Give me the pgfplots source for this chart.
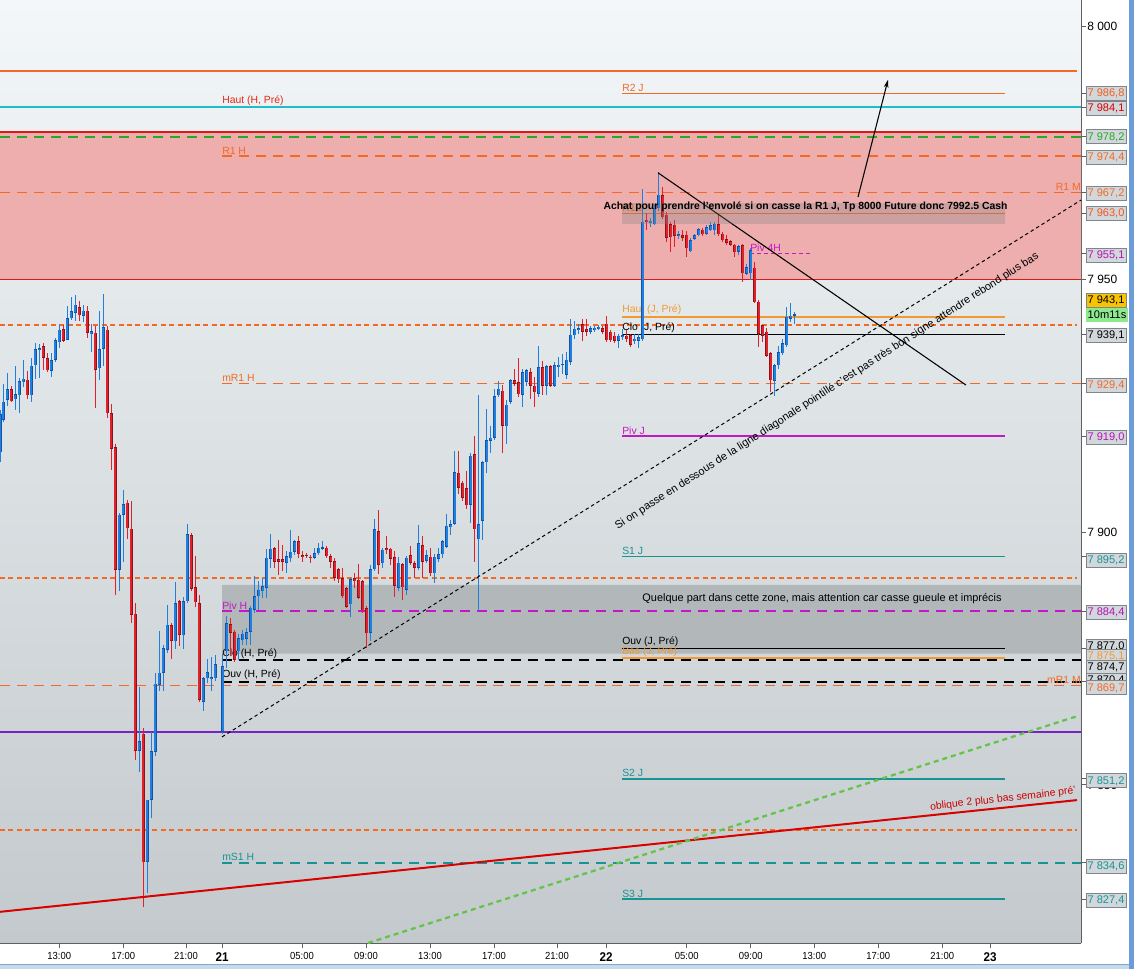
\documentclass[border=0pt]{standalone}
\usepackage{pgfplots}
\pgfplotsset{compat=1.18}
\usepackage{pgfplotstable}
\usepackage{fontspec}
\setmainfont{Liberation Sans}
\newfontfamily\narrow[FakeStretch=0.92]{Liberation Sans}
\usetikzlibrary{arrows.meta}

\definecolor{bgtop}{HTML}{F3F7FA}
\definecolor{bgbot}{HTML}{C3C9CC}
\definecolor{zonered}{HTML}{EEAEAE}
\definecolor{zonegray}{HTML}{B2B7BA}
\definecolor{lvorange}{HTML}{F26A24}
\definecolor{lvlight}{HTML}{F29A30}
\definecolor{lvcyan}{HTML}{20BCC8}
\definecolor{lvred}{HTML}{E01818}
\definecolor{lvgreen}{HTML}{28A828}
\definecolor{lvgreen2}{HTML}{62C448}
\definecolor{lvmag}{HTML}{C418C4}
\definecolor{lvteal}{HTML}{189494}
\definecolor{lvpurple}{HTML}{7A20C8}
\definecolor{cblue}{HTML}{1F80E0}
\definecolor{cblued}{HTML}{1452A8}
\definecolor{cred}{HTML}{E0202A}
\definecolor{credd}{HTML}{901018}
\definecolor{boxfill}{HTML}{D2D7DB}
\definecolor{boxdraw}{HTML}{7E868C}
\definecolor{bandblue}{HTML}{C6DAEA}
\definecolor{bandline}{HTML}{7FA7D6}
\definecolor{rborder}{HTML}{6C9BDA}

% 15 min candles, x in screen pixels, prices
\pgfplotstableread{
x o h l c
0.0 7915.9 7924.3 7914.0 7923.5
3.3 7922.3 7929.5 7921.9 7925.9
7.3 7926.3 7931.5 7925.1 7928.4
11.3 7928.4 7929.1 7925.9 7926.0
15.3 7926.3 7933.0 7924.3 7927.3
19.3 7927.1 7930.7 7923.7 7929.9
23.3 7929.7 7934.2 7928.7 7930.4
27.3 7930.3 7931.9 7926.3 7927.2
31.3 7927.1 7934.6 7925.9 7933.0
35.3 7933.0 7937.4 7930.3 7936.2
39.3 7936.1 7937.2 7930.5 7936.6
43.3 7936.8 7937.4 7932.1 7934.5
47.3 7934.5 7935.4 7931.6 7932.1
51.3 7932.1 7935.4 7930.7 7934.2
55.3 7934.1 7938.6 7933.8 7938.0
59.3 7937.7 7941.2 7936.6 7940.2
63.3 7940.2 7941.0 7937.8 7938.0
67.3 7938.1 7944.8 7938.1 7942.4
71.3 7942.4 7946.7 7942.2 7943.8
75.3 7943.4 7947.0 7941.8 7945.0
79.3 7944.6 7945.8 7941.8 7943.0
83.3 7942.8 7945.0 7941.6 7943.9
87.3 7943.8 7944.8 7938.6 7939.4
91.3 7939.2 7941.2 7935.6 7939.7
95.3 7939.6 7940.8 7924.7 7932.2
99.3 7932.4 7944.0 7930.3 7936.2
103.3 7936.4 7947.2 7933.0 7940.6
107.3 7940.2 7940.8 7922.7 7923.7
111.3 7923.7 7925.5 7912.4 7916.7
115.3 7916.9 7917.5 7887.7 7892.6
119.3 7892.6 7904.0 7888.5 7903.5
123.3 7903.5 7908.4 7894.1 7905.6
127.3 7905.8 7906.4 7898.8 7900.8
131.3 7900.7 7906.4 7882.1 7883.7
135.3 7883.9 7886.1 7855.1 7856.8
139.3 7856.8 7869.4 7852.7 7858.7
143.3 7860.2 7861.5 7826.0 7834.8
147.3 7834.8 7847.1 7828.8 7847.1
151.3 7847.1 7860.6 7843.5 7856.7
155.3 7856.7 7872.2 7855.9 7870.2
159.3 7869.8 7880.5 7868.6 7872.2
163.3 7872.2 7877.8 7868.6 7877.0
167.3 7876.7 7885.7 7876.2 7881.7
171.3 7881.7 7882.1 7875.0 7878.6
175.3 7878.6 7890.1 7877.0 7886.1
179.3 7886.3 7886.5 7877.4 7879.7
183.3 7879.7 7887.3 7877.0 7886.5
187.3 7886.5 7901.8 7886.1 7899.8
191.3 7899.6 7900.0 7888.5 7888.9
195.3 7889.1 7895.3 7885.2 7886.1
199.3 7886.1 7887.7 7866.6 7867.0
203.3 7866.6 7871.4 7864.8 7871.2
207.3 7871.2 7875.0 7870.2 7872.4
211.3 7871.0 7875.4 7868.6 7871.4
215.3 7871.2 7875.8 7870.6 7874.0
222.7 7860.6 7876.0 7860.2 7873.5
226.7 7876.5 7883.4 7873.2 7882.1
230.7 7881.8 7883.1 7875.8 7880.1
234.7 7880.4 7880.8 7874.5 7874.8
238.7 7876.5 7880.1 7874.8 7879.1
242.7 7878.8 7880.8 7877.8 7880.1
246.7 7879.1 7881.1 7877.8 7880.4
250.7 7880.4 7885.4 7877.8 7885.1
254.7 7884.7 7891.4 7884.1 7887.4
258.7 7887.4 7890.4 7884.7 7888.7
262.7 7888.4 7891.0 7887.1 7889.4
266.7 7889.1 7896.7 7887.1 7895.0
270.7 7894.7 7899.6 7893.0 7896.7
274.7 7897.0 7897.3 7893.0 7894.3
278.7 7894.7 7898.6 7891.7 7894.3
282.7 7894.7 7897.6 7892.4 7894.2
286.7 7894.0 7896.3 7892.0 7895.3
290.7 7895.0 7900.6 7894.3 7896.3
294.7 7896.2 7898.6 7895.7 7898.3
298.7 7898.3 7899.3 7895.0 7895.7
302.7 7895.5 7896.3 7894.3 7895.1
306.7 7895.5 7896.0 7895.0 7895.3
310.7 7895.3 7895.7 7894.0 7895.0
314.7 7895.0 7897.0 7894.7 7896.0
318.7 7896.0 7898.0 7895.7 7897.1
322.7 7896.9 7898.3 7896.5 7897.1
326.7 7897.0 7897.3 7895.0 7895.3
330.7 7895.3 7895.7 7893.0 7894.3
334.7 7894.3 7895.0 7890.4 7891.0
338.7 7892.7 7893.0 7890.0 7890.7
342.7 7891.0 7893.0 7887.1 7887.4
346.7 7889.1 7889.4 7885.1 7885.4
350.7 7885.7 7891.0 7883.4 7890.7
354.7 7891.0 7892.0 7889.1 7890.4
358.7 7890.7 7893.7 7886.7 7887.1
362.7 7890.4 7890.7 7884.1 7884.7
366.7 7885.1 7885.4 7877.1 7880.1
370.7 7880.1 7893.7 7878.5 7892.7
374.7 7892.7 7902.6 7892.4 7900.6
378.7 7900.3 7904.3 7891.7 7893.7
382.7 7894.0 7897.0 7893.0 7896.7
386.7 7896.9 7899.3 7895.7 7896.5
390.7 7896.7 7897.0 7893.7 7894.7
394.7 7895.0 7896.3 7887.1 7889.4
398.7 7889.1 7895.0 7888.4 7894.0
402.7 7893.7 7894.0 7886.7 7889.1
406.7 7888.7 7895.3 7887.7 7895.0
410.7 7895.5 7897.3 7893.7 7894.0
414.7 7894.0 7894.3 7891.0 7893.0
418.7 7893.0 7901.6 7892.7 7897.8
422.7 7897.5 7899.3 7891.0 7894.3
426.7 7894.3 7896.7 7894.0 7895.5
430.7 7895.3 7897.0 7891.4 7892.0
434.7 7892.0 7895.7 7890.0 7895.3
438.7 7894.7 7897.0 7894.3 7895.7
442.7 7895.7 7898.6 7895.0 7898.3
446.7 7897.1 7903.6 7897.0 7901.3
450.7 7901.1 7902.6 7899.6 7901.7
454.7 7901.7 7916.2 7901.6 7911.9
458.7 7911.9 7916.2 7907.6 7908.9
462.7 7909.9 7910.2 7906.3 7906.9
466.7 7908.6 7912.2 7904.6 7905.3
470.7 7905.5 7915.8 7901.9 7915.2
474.7 7915.5 7919.2 7894.3 7900.6
478.7 7898.6 7927.1 7884.4 7901.6
482.7 7902.3 7914.2 7898.6 7913.9
486.7 7913.9 7924.5 7911.9 7918.2
490.7 7918.2 7921.1 7915.8 7918.8
494.7 7918.8 7928.4 7918.2 7927.1
498.7 7927.1 7930.1 7926.8 7928.4
502.7 7928.1 7929.1 7915.8 7921.1
506.7 7921.1 7926.1 7917.5 7925.4
510.7 7925.8 7930.4 7925.4 7930.1
514.7 7930.1 7932.4 7929.1 7929.4
518.7 7929.8 7934.7 7926.8 7927.4
522.7 7927.3 7932.4 7924.8 7931.7
526.7 7929.8 7932.4 7929.1 7932.1
530.7 7931.7 7932.4 7926.4 7929.1
534.7 7929.1 7930.7 7924.8 7927.8
538.7 7927.4 7937.0 7926.8 7932.7
542.7 7932.7 7934.0 7927.1 7929.0
546.7 7929.0 7933.2 7927.1 7932.9
550.7 7932.9 7933.1 7928.8 7929.1
554.7 7929.1 7933.7 7928.8 7933.1
558.7 7932.7 7934.7 7930.8 7933.2
562.7 7933.2 7935.4 7931.4 7933.4
566.7 7931.1 7935.7 7930.4 7934.1
570.7 7933.7 7942.2 7933.1 7939.1
574.7 7939.0 7942.0 7938.3 7940.3
578.7 7940.1 7941.3 7939.3 7940.5
582.7 7941.1 7942.2 7938.0 7939.7
586.7 7940.3 7942.3 7938.9 7939.7
590.7 7939.9 7941.0 7939.3 7940.5
594.7 7940.0 7940.9 7939.7 7940.5
598.7 7940.2 7941.1 7940.0 7940.7
602.7 7940.5 7941.0 7939.3 7939.7
606.7 7941.3 7943.0 7937.7 7938.0
610.7 7939.7 7940.0 7937.7 7938.0
614.7 7939.0 7939.7 7937.4 7938.0
618.7 7938.0 7939.3 7936.4 7939.0
622.7 7938.7 7940.3 7938.0 7939.1
626.7 7939.0 7940.0 7937.7 7938.3
630.7 7938.9 7939.3 7936.7 7937.0
634.7 7937.8 7939.3 7937.4 7938.3
638.7 7938.0 7939.3 7936.5 7938.7
642.7 7938.3 7968.0 7938.0 7961.6
646.7 7961.8 7963.1 7959.8 7961.4
650.7 7961.3 7962.2 7960.4 7961.8
654.7 7960.9 7964.9 7960.8 7964.1
658.7 7964.1 7971.3 7963.7 7966.8
662.7 7966.8 7968.4 7962.1 7962.4
666.7 7962.9 7963.4 7957.5 7958.3
670.7 7960.9 7961.4 7955.6 7958.3
674.7 7960.9 7961.8 7956.5 7958.7
678.7 7958.8 7959.8 7958.1 7959.1
682.7 7958.9 7959.8 7957.6 7958.4
686.7 7958.9 7959.6 7954.5 7956.2
690.7 7955.6 7958.3 7955.4 7957.8
694.7 7958.0 7959.1 7957.8 7958.8
698.7 7958.8 7960.4 7958.7 7960.0
702.7 7960.0 7960.4 7958.7 7959.1
706.7 7959.1 7960.8 7958.8 7960.4
710.7 7959.8 7961.3 7959.5 7960.8
714.7 7959.8 7961.4 7958.8 7961.1
718.7 7960.9 7963.1 7958.7 7958.9
722.7 7959.1 7959.5 7957.5 7957.8
726.7 7958.0 7958.8 7956.9 7957.3
730.7 7957.5 7957.8 7956.5 7956.8
734.7 7956.9 7957.1 7954.5 7955.4
738.7 7955.4 7956.8 7954.8 7956.5
742.7 7956.8 7957.1 7949.6 7951.2
746.7 7951.2 7953.2 7950.9 7952.5
750.7 7951.2 7956.2 7949.9 7955.8
754.7 7952.5 7953.5 7945.5 7945.6
758.7 7945.7 7945.9 7936.7 7939.3
762.7 7941.0 7941.1 7937.7 7939.0
766.7 7939.8 7940.3 7934.7 7935.1
770.7 7935.4 7935.7 7927.8 7930.1
774.7 7930.1 7933.4 7927.1 7933.1
778.7 7933.1 7937.0 7932.4 7935.6
782.7 7935.4 7938.3 7935.1 7937.4
786.7 7937.0 7944.6 7936.7 7942.6
790.7 7942.3 7945.3 7941.6 7942.9
794.7 7942.9 7943.6 7941.3 7943.1
}\candles

\pgfplotsset{
  lv/.style={no marks, line width=1.1pt, forget plot},
  ld/.style={dash pattern=on 7.5pt off 5.25pt},
  sd/.style={dash pattern=on 3.75pt off 2.6pt, line width=1.5pt},
  up/.style={restrict expr to domain={\thisrow{c}-\thisrow{o}}{0:1000}},
  down/.style={restrict expr to domain={\thisrow{c}-\thisrow{o}}{-1000:-0.001}},
  wick/.style={draw=none, mark=none, forget plot,
    error bars/.cd, y dir=both, y explicit, error mark=none,
    error bar style={draw=#1, line width=0.8pt}},
  body/.style 2 args={draw=none, mark=none, forget plot,
    error bars/.cd, y dir=both, y explicit, error mark=none,
    error bar style={draw=#1, line width=#2}},
}
\tikzset{
  lbl/.style={anchor=south west, inner sep=0pt, yshift=1.2pt, font=\fontsize{7.8}{9}\selectfont},
  pbox/.style={draw=boxdraw, fill=boxfill, line width=0.6pt, minimum width=30pt,
    minimum height=10.5pt, inner sep=0pt, font=\fontsize{8.3}{9}\selectfont},
  ylab/.style={anchor=west, inner sep=0pt, font=\fontsize{9}{10}\selectfont},
  rt/.style={gray!75!black, line width=0.75pt},
}

\begin{document}
\begin{tikzpicture}
\useasboundingbox (0,0) rectangle (850.5pt,-726.75pt);
\fill[white] (0,0) rectangle (850.5pt,-726.75pt);
\fill[bandblue] (0,-723.4pt) rectangle (850.5pt,-726.75pt);
\draw[bandline, line width=0.75pt] (0,-723.4pt) -- (850.5pt,-723.4pt);
\fill[rborder] (846.75pt,0) rectangle (850.5pt,-726.75pt);

\begin{axis}[
  at={(0,0)}, anchor=north west,
  scale only axis, width=810.75pt, height=707.25pt,
  xmin=0, xmax=1081, ymin=7818.73, ymax=8005.28,
  clip=false,
  axis background/.style={shade, top color=bgtop, bottom color=bgbot},
  axis x line*=bottom, axis y line*=right,
  axis line style={-, draw=gray!75!black, line width=0.75pt},
  tick align=outside, major tick length=3.75pt,
  tick style={gray!75!black, line width=0.75pt},
  ytick={7850,7900,7950,8000}, yticklabels={,,,},
  xtick={-4,59.3,123.3,186,222,302,366,430,494,557,606,686.7,750.7,814.3,878.3,942.3,990},
  xticklabels={09:00,13:00,17:00,21:00,{\fontsize{9.5}{11}\selectfont\bfseries 21},05:00,09:00,13:00,17:00,21:00,{\fontsize{9.5}{11}\selectfont\bfseries 22},05:00,09:00,13:00,17:00,21:00,{\fontsize{9.5}{11}\selectfont\bfseries 23}},
  xticklabel style={font=\narrow\fontsize{7.7}{9}\selectfont, inner sep=1pt, yshift=-2.2pt},
]

% zones
\addplot[fill=zonered, draw=none, forget plot] coordinates {(0,7950) (1081,7950) (1081,7979.2) (0,7979.2) (0,7950)};
\addplot[fill=zonegray, draw=none, forget plot] coordinates {(222,7876.0) (1081,7876.0) (1081,7889.6) (222,7889.6) (222,7876.0)};

% levels
\addplot[lv, lvorange, line width=1.5pt] coordinates {(0,7991.2) (1077,7991.2)};
\addplot[lv, lvorange] coordinates {(622,7986.8) (1005,7986.8)};
\addplot[lv, lvcyan] coordinates {(0,7984.1) (1081,7984.1)};
\addplot[lv, lvred] coordinates {(0,7979.2) (1081,7979.2)};
\addplot[lv, lvgreen, ld] coordinates {(0,7978.2) (1081,7978.2)};
\addplot[lv, lvorange, ld] coordinates {(222,7974.4) (1081,7974.4)};
\addplot[lv, lvorange, ld] coordinates {(0,7967.2) (1081,7967.2)};
\addplot[lv, lvorange] coordinates {(622,7963.0) (1005,7963.0)};
\addplot[lv, lvmag, dash pattern=on 3pt off 2.25pt] coordinates {(750,7955.1) (810,7955.1)};
\addplot[lv, lvred] coordinates {(0,7950) (1081,7950)};
\addplot[lv, lvlight] coordinates {(622,7942.6) (1005,7942.6)};
\addplot[lv, lvorange, sd] coordinates {(0,7941.0) (1077,7941.0)};
\addplot[lv, black] coordinates {(622,7939.1) (1005,7939.1)};
\addplot[lv, lvorange, ld] coordinates {(222,7929.4) (1081,7929.4)};
\addplot[lv, lvmag] coordinates {(622,7919.0) (1005,7919.0)};
\addplot[lv, lvteal] coordinates {(622,7895.2) (1005,7895.2)};
\addplot[lv, lvorange, sd] coordinates {(0,7890.9) (1077,7890.9)};
\addplot[lv, lvmag, ld] coordinates {(222,7884.4) (1081,7884.4)};
\addplot[lv, black] coordinates {(622,7877.0) (1005,7877.0)};
\addplot[lv, lvlight] coordinates {(622,7875.1) (1005,7875.1)};
\addplot[lv, black, ld] coordinates {(222,7874.7) (1081,7874.7)};
\addplot[lv, black, ld] coordinates {(222,7870.4) (1081,7870.4)};
\addplot[lv, lvorange, ld] coordinates {(0,7869.7) (1081,7869.7)};
\addplot[lv, lvpurple] coordinates {(0,7860.5) (1081,7860.5)};
\addplot[lv, lvteal] coordinates {(622,7851.2) (1005,7851.2)};
\addplot[lv, lvorange, sd] coordinates {(0,7841.1) (1077,7841.1)};
\addplot[lv, lvteal, ld] coordinates {(222,7834.6) (1081,7834.6)};
\addplot[lv, lvteal] coordinates {(622,7827.4) (1005,7827.4)};

% level labels
\node[lbl, text=lvred!85!orange] at (axis cs:222,7984.1) {Haut (H, Pré)};
\node[lbl, text=lvorange] at (axis cs:222,7974.4) {R1 H};
\node[lbl, text=lvorange] at (axis cs:622,7986.8) {R2 J};
\node[lbl, text=lvorange] at (axis cs:622,7963.0) {R1 J};
\node[lbl, text=lvorange, anchor=south east] at (axis cs:1081,7967.2) {R1 M};
\node[lbl, text=lvmag] at (axis cs:750,7955.1) {Piv 4H};
\node[lbl, text=lvlight] at (axis cs:622,7942.6) {Haut (J, Pré)};
\node[lbl, text=black] at (axis cs:622,7939.1) {Clo (J, Pré)};
\node[lbl, text=lvorange] at (axis cs:222,7929.4) {mR1 H};
\node[lbl, text=lvmag] at (axis cs:622,7919.0) {Piv J};
\node[lbl, text=lvteal] at (axis cs:622,7895.2) {S1 J};
\node[lbl, text=lvmag] at (axis cs:222,7884.4) {Piv H};
\node[lbl, text=lvlight] at (axis cs:622,7875.1) {Bas (J, Pré)};
\node[lbl, text=black] at (axis cs:622,7877.0) {Ouv (J, Pré)};
\node[lbl, text=black] at (axis cs:222,7874.7) {Clo (H, Pré)};
\node[lbl, text=black] at (axis cs:222,7870.4) {Ouv (H, Pré)};
\node[lbl, text=lvorange, anchor=south east] at (axis cs:1081,7869.7) {mR1 M};
\node[lbl, text=lvteal] at (axis cs:622,7851.2) {S2 J};
\node[lbl, text=lvteal] at (axis cs:222,7834.6) {mS1 H};
\node[lbl, text=lvteal] at (axis cs:622,7827.4) {S3 J};

% candles
\addplot[up, wick=cblue] table[x=x, y expr={(\thisrow{h}+\thisrow{l})/2}, y error expr={(\thisrow{h}-\thisrow{l})/2}] {\candles};
\addplot[down, wick=cred] table[x=x, y expr={(\thisrow{h}+\thisrow{l})/2}, y error expr={(\thisrow{h}-\thisrow{l})/2}] {\candles};
\addplot[up, body={cblued}{2.6pt}] table[x=x, y expr={(\thisrow{o}+\thisrow{c})/2}, y error expr={max(abs(\thisrow{c}-\thisrow{o})/2,0.12)}] {\candles};
\addplot[up, body={cblue}{1.5pt}] table[x=x, y expr={(\thisrow{o}+\thisrow{c})/2}, y error expr={max(abs(\thisrow{c}-\thisrow{o})/2-0.12,0)}] {\candles};
\addplot[down, body={credd}{2.6pt}] table[x=x, y expr={(\thisrow{o}+\thisrow{c})/2}, y error expr={max(abs(\thisrow{c}-\thisrow{o})/2,0.12)}] {\candles};
\addplot[down, body={cred}{1.5pt}] table[x=x, y expr={(\thisrow{o}+\thisrow{c})/2}, y error expr={max(abs(\thisrow{c}-\thisrow{o})/2-0.12,0)}] {\candles};

% trend lines
\addplot[lv, red!85!black, line width=1.5pt] coordinates {(0,7824.9) (1077,7847.0)};
\addplot[lv, lvgreen2, line width=1.7pt, dash pattern=on 3.75pt off 3pt] coordinates {(368,7818.73) (1077,7863.6)};
\addplot[lv, black, line width=0.75pt, dash pattern=on 2.6pt off 2.2pt] coordinates {(222,7859.5) (1081,7965.7)};
\addplot[lv, black, line width=0.8pt] coordinates {(658,7971.1) (966,7929.1)};
\addplot[lv, black, line width=0.8pt, -{Stealth[length=6pt, width=3.5pt]}] coordinates {(858,7966.3) (888,7989.5)};

% text boxes
\addplot[fill=gray, fill opacity=0.3, draw=none, forget plot] coordinates {(622,7961.0) (1005,7961.0) (1005,7965.1) (622,7965.1) (622,7961.0)};
\node[font=\fontsize{7.8}{8}\selectfont\bfseries, inner sep=0pt] at (axis cs:805.5,7964.4) {Achat pour prendre l'envolé si on casse la R1 J, Tp 8000 Future donc 7992.5 Cash};
\node[font=\fontsize{8.2}{9}\selectfont, inner sep=0pt] at (axis cs:822,7886.8) {Quelque part dans cette zone, mais attention car casse gueule et imprécis};
\node[font=\fontsize{8.2}{9}\selectfont, inner sep=0pt, rotate=32.8] at (axis cs:827,7927.9) {Si on passe en dessous de la ligne diagonale pointillé c'est pas très bon signe attendre rebond plus bas};
\node[font=\fontsize{7.8}{8}\selectfont, inner sep=0pt, rotate=6.5, text=red!80!black] at (axis cs:1003,7847.2) {oblique 2 plus bas semaine pré'};

% right scale
\node[ylab] at (axis cs:1087,8000) {8 000};
\node[ylab] at (axis cs:1087,7950) {7 950};
\node[ylab] at (axis cs:1087,7900) {7 900};
\node[ylab] at (axis cs:1087,7850) {7 850};
\draw[rt] (axis cs:1081,7986.8) -- (axis cs:1086,7986.8);
\draw[rt] (axis cs:1081,7984.1) -- (axis cs:1086,7984.1);
\draw[rt] (axis cs:1081,7978.2) -- (axis cs:1086,7978.2);
\draw[rt] (axis cs:1081,7974.4) -- (axis cs:1086,7974.4);
\draw[rt] (axis cs:1081,7967.2) -- (axis cs:1086,7967.2);
\draw[rt] (axis cs:1081,7963.0) -- (axis cs:1086,7963.0);
\draw[rt] (axis cs:1081,7955.1) -- (axis cs:1086,7955.1);
\draw[rt] (axis cs:1081,7939.1) -- (axis cs:1086,7939.1);
\draw[rt] (axis cs:1081,7929.4) -- (axis cs:1086,7929.4);
\draw[rt] (axis cs:1081,7919.0) -- (axis cs:1086,7919.0);
\draw[rt] (axis cs:1081,7895.2) -- (axis cs:1086,7895.2);
\draw[rt] (axis cs:1081,7884.4) -- (axis cs:1086,7884.4);
\draw[rt] (axis cs:1081,7877.0) -- (axis cs:1086,7877.0);
\draw[rt] (axis cs:1081,7870.4) -- (axis cs:1086,7870.4);
\draw[rt] (axis cs:1081,7851.2) -- (axis cs:1086,7851.2);
\draw[rt] (axis cs:1081,7834.6) -- (axis cs:1086,7834.6);
\draw[rt] (axis cs:1081,7827.4) -- (axis cs:1086,7827.4);
\node[pbox, text=lvorange!90!red] at (axis cs:1106,7986.8) {7 986,8};
\node[pbox, text=red!85!black] at (axis cs:1106,7983.9) {7 984,1};
\node[pbox, text=lvgreen] at (axis cs:1106,7978.2) {7 978,2};
\node[pbox, text=lvorange] at (axis cs:1106,7974.2) {7 974,4};
\node[pbox, text=lvorange] at (axis cs:1106,7967.1) {7 967,2};
\node[pbox, text=lvorange!80!red] at (axis cs:1106,7963.1) {7 963,0};
\node[pbox, text=lvmag!80!violet] at (axis cs:1106,7954.8) {7 955,1};
\node[pbox, fill={rgb,255:red,248;green,196;blue,0}] at (axis cs:1106,7945.9) {7 943,1};
\node[pbox, fill={rgb,255:red,142;green,232;blue,142}, draw=none, minimum width=31.5pt] at (axis cs:1107,7943.0) {10m11s};
\node[pbox] at (axis cs:1106,7939.0) {7 939,1};
\node[pbox, text=lvorange] at (axis cs:1106,7929.1) {7 929,4};
\node[pbox, text=lvmag!80!violet] at (axis cs:1106,7918.8) {7 919,0};
\node[pbox, text=lvteal] at (axis cs:1106,7894.5) {7 895,2};
\node[pbox, text=lvmag!80!violet] at (axis cs:1106,7884.2) {7 884,4};
\node[pbox] at (axis cs:1106,7877.5) {7 877,0};
\node[pbox, text=lvlight] at (axis cs:1106,7875.5) {7 875,1};
\node[pbox] at (axis cs:1106,7873.3) {7 874,7};
\node[pbox] at (axis cs:1106,7870.6) {7 870,4};
\node[pbox, text=lvorange] at (axis cs:1106,7869.2) {7 869,7};
\node[pbox, text=lvteal] at (axis cs:1106,7850.8) {7 851,2};
\node[pbox, text=lvteal] at (axis cs:1106,7833.8) {7 834,6};
\node[pbox, text=lvteal] at (axis cs:1106,7827.1) {7 827,4};
\end{axis}
\end{tikzpicture}
\end{document}
